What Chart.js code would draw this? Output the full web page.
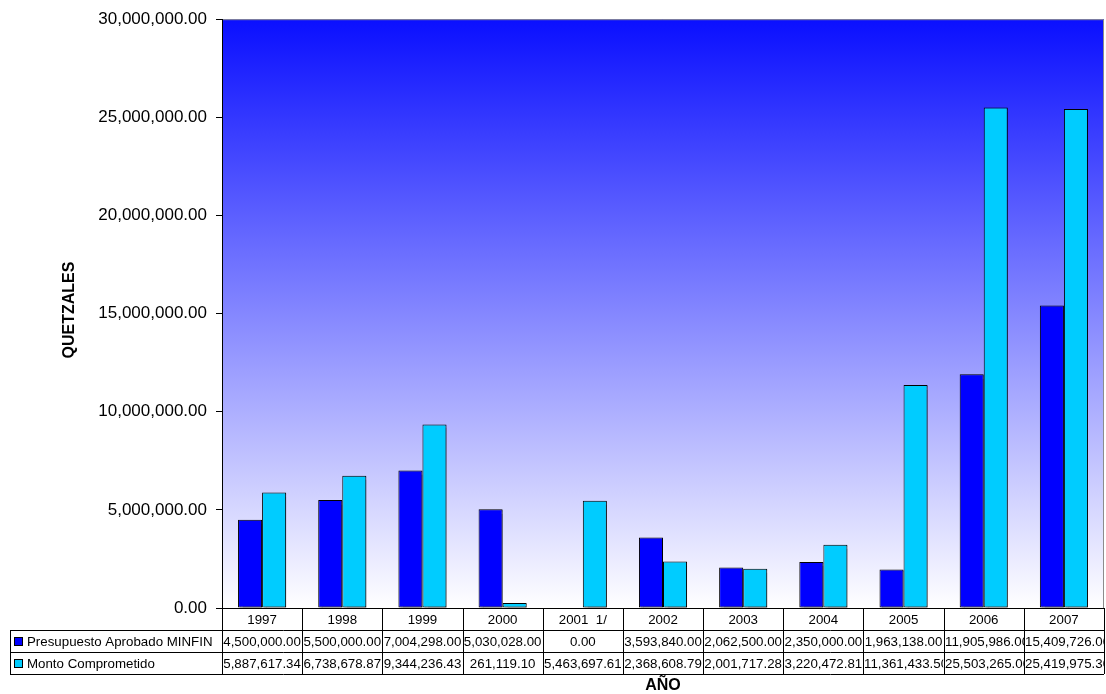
<!DOCTYPE html>
<html>
<head>
<meta charset="utf-8">
<script src="https://cdn.jsdelivr.net/npm/chart.js@4.4.1/dist/chart.umd.min.js"></script>
<style>
  html, body { margin: 0; padding: 0; background: #ffffff; }
  #wrap { width: 1106px; height: 694px; position: relative; }
</style>
</head>
<body>
<div id="wrap"><canvas id="c" width="1106" height="694"></canvas></div>
<script>
// Years on the category axis
const years = ['1997', '1998', '1999', '2000', '2001  1/', '2002', '2003', '2004', '2005', '2006', '2007'];

// Series values (quetzales)
const presupuestoMinfin = [4500000.00, 5500000.00, 7004298.00, 5030028.00, 0.00, 3593840.00, 2062500.00, 2350000.00, 1963138.00, 11905986.00, 15409726.00];
const montoComprometido = [5887617.34, 6738678.87, 9344236.43, 261119.10, 5463697.61, 2368608.79, 2001717.28, 3220472.81, 11361433.50, 25503265.00, 25419975.30];

const seriesNames = ['Presupuesto Aprobado MINFIN', 'Monto Comprometido'];
const seriesColors = ['#0000ff', '#00ccff'];

// Value axis ticks
const yTicks = [0, 5000000, 10000000, 15000000, 20000000, 25000000, 30000000];

const FONT = '"Liberation Sans", Arial, sans-serif';
const money = v => v.toLocaleString('en-US', { minimumFractionDigits: 2, maximumFractionDigits: 2 });

// Gradient fill behind the plot area
const plotBackground = {
  id: 'plotBackground',
  beforeDraw(chart) {
    const { ctx, chartArea: a } = chart;
    const g = ctx.createLinearGradient(0, a.top, 0, a.bottom);
    g.addColorStop(0, '#0a0fff');
    g.addColorStop(1, '#ffffff');
    ctx.save();
    ctx.fillStyle = g;
    ctx.fillRect(a.left, a.top, a.right - a.left, a.bottom - a.top);
    ctx.strokeStyle = '#8c8c8c';
    ctx.lineWidth = 1;
    ctx.beginPath();
    ctx.moveTo(a.left, a.top + 0.5);
    ctx.lineTo(a.right - 0.5, a.top + 0.5);
    ctx.lineTo(a.right - 0.5, a.bottom);
    ctx.stroke();
    ctx.restore();
  }
};

// Soft drop shadow on the bars
const barShadow = {
  id: 'barShadow',
  beforeDatasetsDraw(chart) {
    const ctx = chart.ctx;
    ctx.save();
    ctx.shadowColor = 'rgba(0,0,0,0.35)';
    ctx.shadowOffsetX = 2;
    ctx.shadowOffsetY = 1;
    ctx.shadowBlur = 1;
  },
  afterDatasetsDraw(chart) {
    chart.ctx.restore();
  }
};

// Data table under the plot: year header plus one row per series
const dataTable = {
  id: 'dataTable',
  afterDraw(chart) {
    const { ctx, chartArea: a, scales } = chart;
    const x = scales.x;
    const n = years.length;
    const colW = (a.right - a.left) / n;
    const rowH = 22;
    const top = a.bottom;
    const legendLeft = 10;
    const rows = [presupuestoMinfin, montoComprometido];

    ctx.save();
    ctx.strokeStyle = '#000000';
    ctx.lineWidth = 1;

    // horizontal rules
    ctx.beginPath();
    ctx.moveTo(a.left, top + 0.5); ctx.lineTo(a.right, top + 0.5);
    for (let r = 1; r <= 3; r++) {
      const yy = Math.round(top + r * rowH) + 0.5;
      ctx.moveTo(legendLeft, yy); ctx.lineTo(a.right, yy);
    }
    // vertical rules
    ctx.moveTo(legendLeft + 0.5, top + rowH); ctx.lineTo(legendLeft + 0.5, top + 3 * rowH);
    for (let i = 0; i <= n; i++) {
      const xx = Math.round(x.getPixelForValue(i) - colW / 2) + 0.5;
      ctx.moveTo(xx, top); ctx.lineTo(xx, top + 3 * rowH);
    }
    ctx.stroke();

    ctx.fillStyle = '#000000';
    ctx.textBaseline = 'middle';
    ctx.font = '13.3px ' + FONT;

    // header row: years
    ctx.textAlign = 'center';
    years.forEach((yr, i) => {
      ctx.fillText(yr, x.getPixelForValue(i), top + rowH / 2 + 1);
    });

    // legend cells and values
    rows.forEach((vals, r) => {
      const cy = top + (r + 1) * rowH + rowH / 2 + 1;
      const sy = Math.round(cy - 5);
      ctx.fillStyle = seriesColors[r];
      ctx.fillRect(legendLeft + 4, sy, 9, 9);
      ctx.strokeRect(legendLeft + 4.5, sy + 0.5, 8, 8);
      ctx.fillStyle = '#000000';
      ctx.textAlign = 'left';
      ctx.fillText(seriesNames[r], legendLeft + 17, cy);

      vals.forEach((v, i) => {
        const cx = x.getPixelForValue(i);
        const left = Math.round(cx - colW / 2) + 1;
        const txt = money(v);
        const w = ctx.measureText(txt).width;
        ctx.save();
        ctx.beginPath();
        ctx.rect(left, top + (r + 1) * rowH + 1, colW - 1, rowH - 1);
        ctx.clip();
        if (w <= colW - 2) {
          ctx.textAlign = 'center';
          ctx.fillText(txt, cx, cy);
        } else {
          ctx.textAlign = 'left';
          ctx.fillText(txt, left, cy);
        }
        ctx.restore();
      });
    });

    // axis titles
    ctx.font = 'bold 16px ' + FONT;
    ctx.textAlign = 'center';
    ctx.fillText('AÑO', (a.left + a.right) / 2, 686);
    ctx.translate(70, 310);
    ctx.rotate(-Math.PI / 2);
    ctx.fillText('QUETZALES', 0, 0);
    ctx.restore();
  }
};

new Chart(document.getElementById('c'), {
  type: 'bar',
  data: {
    labels: years,
    datasets: [
      {
        label: seriesNames[0],
        data: presupuestoMinfin,
        backgroundColor: seriesColors[0],
        borderColor: '#000000',
        borderWidth: 1,
        borderSkipped: false
      },
      {
        label: seriesNames[1],
        data: montoComprometido,
        backgroundColor: seriesColors[1],
        borderColor: '#000000',
        borderWidth: 1,
        borderSkipped: false
      }
    ]
  },
  options: {
    responsive: false,
    animation: false,
    devicePixelRatio: 1,
    layout: { padding: { left: 0, right: 2, top: 17, bottom: 86 } },
    plugins: {
      legend: { display: false },
      tooltip: { enabled: false }
    },
    datasets: {
      bar: { categoryPercentage: 0.6, barPercentage: 1.0 }
    },
    scales: {
      x: {
        display: false,
        offset: true
      },
      y: {
        min: 0,
        max: 30000000,
        afterFit(scale) { scale.width = 222; },
        afterBuildTicks(scale) { scale.ticks = yTicks.map(v => ({ value: v })); },
        border: { display: true, color: '#000000', width: 1 },
        grid: {
          display: true,
          drawOnChartArea: false,
          drawTicks: true,
          tickLength: 6,
          color: '#000000'
        },
        ticks: {
          color: '#000000',
          padding: 9,
          font: { family: FONT, size: 17 },
          callback: v => money(v)
        }
      }
    }
  },
  plugins: [plotBackground, barShadow, dataTable]
});
</script>
</body>
</html>
